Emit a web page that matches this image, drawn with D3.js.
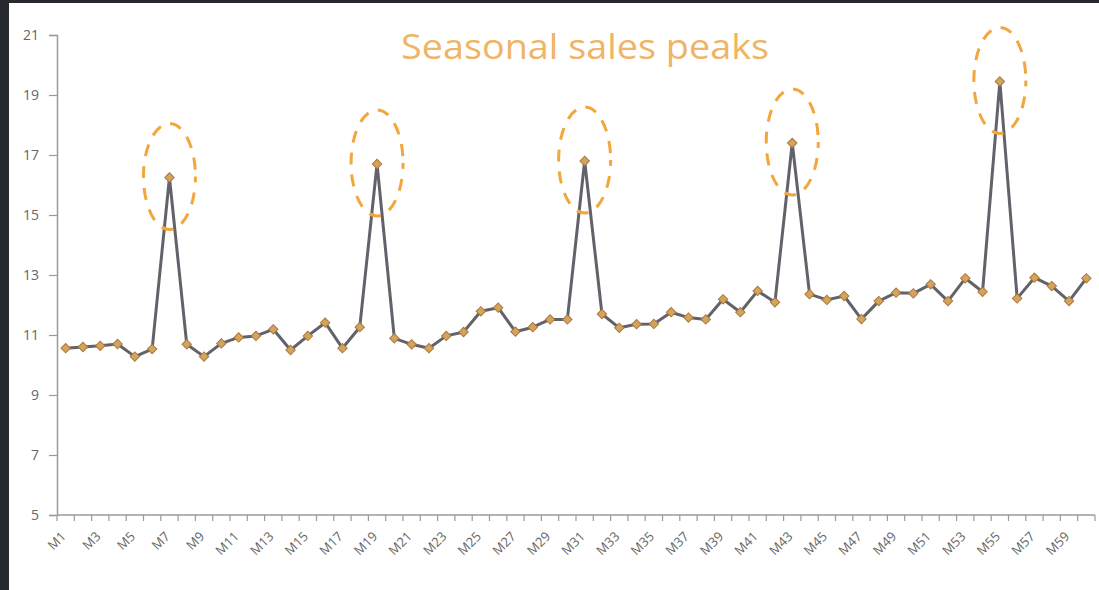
<!DOCTYPE html>
<html>
<head>
<meta charset="utf-8">
<script src="https://cdn.jsdelivr.net/npm/d3@7"></script>
<style>
  html, body { margin: 0; padding: 0; background: #26292e; }
  svg { display: block; }
</style>
</head>
<body>
<svg id="chart" width="1099" height="590"></svg>
<script>
// monthly sales, M1..M60
const months = d3.range(1, 61).map((i) => "M" + i);
const sales = [
    10.56, 10.6, 10.64, 10.7, 10.28, 10.53, 16.25, 10.69, 10.28, 10.72,
    10.92, 10.97, 11.19, 10.5, 10.97, 11.41, 10.56, 11.26, 16.7, 10.89,
    10.69, 10.56, 10.97, 11.1, 11.79, 11.91, 11.11, 11.26, 11.52, 11.52,
    16.8, 11.7, 11.24, 11.36, 11.37, 11.76, 11.58, 11.52, 12.19, 11.76,
    12.47, 12.09, 17.4, 12.36, 12.17, 12.3, 11.53, 12.13, 12.41, 12.39,
    12.69, 12.13, 12.89, 12.44, 19.45, 12.22, 12.91, 12.63, 12.13, 12.89,
];
const peakMonths = ["M7", "M19", "M31", "M43", "M55"];
const yTicks = [5, 7, 9, 11, 13, 15, 17, 19, 21];
const title = "Seasonal sales peaks";

const data = months.map((m, i) => ({ month: m, value: sales[i] }));

const svg = d3.select("#chart");

// white panel inside the dark frame
svg.append("rect")
    .attr("x", 9)
    .attr("y", 3)
    .attr("width", 1090)
    .attr("height", 587)
    .attr("fill", "#ffffff");

const x = d3.scaleBand().domain(months).range([57, 1095]);
const y = d3.scaleLinear().domain([5, 21]).range([515, 35]);

// y axis
const yAxis = svg.append("g")
    .attr("transform", "translate(57,0)")
    .call(d3.axisLeft(y).tickValues(yTicks).tickSize(8).tickPadding(10));
yAxis.select(".domain").attr("stroke", "#9a9a9a").attr("stroke-width", 1.5);
yAxis.selectAll(".tick line").attr("stroke", "#9a9a9a").attr("stroke-width", 1.2);
yAxis.selectAll(".tick text")
    .attr("fill", "#666666")
    .style("font-family", "'Open Sans', sans-serif")
    .style("font-size", "14px");

// x axis: ticks between categories, labels on odd months
const xAxis = svg.append("g").attr("transform", "translate(0,515)");
xAxis.append("line")
    .attr("x1", 57)
    .attr("x2", 1095)
    .attr("stroke", "#9a9a9a")
    .attr("stroke-width", 1.5);
xAxis.selectAll(".tk")
    .data(months.concat(["end"]))
    .join("line")
    .attr("class", "tk")
    .attr("x1", (d, i) => (i < months.length ? x(d) : x.range()[1]))
    .attr("x2", (d, i) => (i < months.length ? x(d) : x.range()[1]))
    .attr("y1", 0)
    .attr("y2", 6)
    .attr("stroke", "#9a9a9a")
    .attr("stroke-width", 1.2);
xAxis.selectAll(".lbl")
    .data(months.filter((d, i) => i % 2 === 0))
    .join("text")
    .attr("class", "lbl")
    .attr("transform", (d) => `translate(${x(d) + x.bandwidth() / 2 - 2},${19}) rotate(-45)`)
    .attr("text-anchor", "end")
    .attr("dy", "0.35em")
    .attr("fill", "#666666")
    .style("font-family", "'Open Sans', sans-serif")
    .style("font-size", "13px")
    .text((d) => d);

// sales line
const cx = (d) => x(d.month) + x.bandwidth() / 2;
const line = d3.line().x(cx).y((d) => y(d.value));

svg.append("path")
    .datum(data)
    .attr("fill", "none")
    .attr("stroke", "#62626b")
    .attr("stroke-width", 3)
    .attr("stroke-linejoin", "round")
    .attr("d", line);

svg.append("g")
    .selectAll("path")
    .data(data)
    .join("path")
    .attr("transform", (d) => `translate(${cx(d)},${y(d.value)}) rotate(45)`)
    .attr("d", d3.symbol(d3.symbolSquare, 44))
    .attr("fill", "#d4a35e")
    .attr("stroke", "#a9793a")
    .attr("stroke-width", 1);

// dashed ellipses around the peaks
svg.append("g")
    .selectAll("ellipse")
    .data(data.filter((d) => peakMonths.includes(d.month)))
    .join("ellipse")
    .attr("cx", cx)
    .attr("cy", (d) => y(d.value) - 1)
    .attr("rx", 26)
    .attr("ry", 53)
    .attr("fill", "none")
    .attr("stroke", "#f2a63c")
    .attr("stroke-width", 3)
    .attr("stroke-dasharray", "12,10")
    .attr("stroke-dashoffset", 6);

// title
svg.append("text")
    .attr("x", 585)
    .attr("y", 59)
    .attr("text-anchor", "middle")
    .attr("fill", "#efb465")
    .attr("textLength", 368)
    .attr("lengthAdjust", "spacingAndGlyphs")
    .style("font-family", "'Open Sans', sans-serif")
    .style("font-size", "34px")
    .text(title);
</script>
</body>
</html>
